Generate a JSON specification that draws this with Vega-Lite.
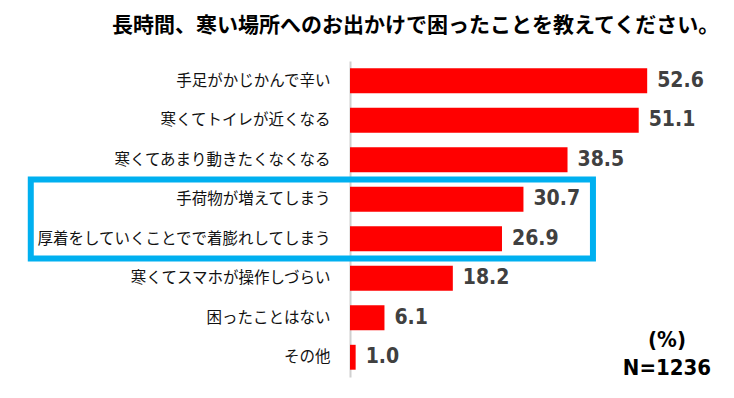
{
  "$schema": "https://vega.github.io/schema/vega-lite/v6.json",
  "width": 339,
  "height": 316,
  "autosize": {"type": "none"},
  "padding": {"left": 350, "top": 61, "right": 45, "bottom": 21},
  "background": "white",
  "config": {"view": {"stroke": null}},
  "title": {
    "text": "長時間、寒い場所へのお出かけで困ったことを教えてください。",
    "font": "Noto Sans CJK JP",
    "fontSize": 21,
    "fontWeight": "bold",
    "color": "#000000",
    "anchor": "start",
    "frame": "group",
    "dx": -238,
    "offset": 25
  },
  "layer": [
    {
      "data": {
        "values": [
          {"label": "手足がかじかんで辛い", "value": 52.6},
          {"label": "寒くてトイレが近くなる", "value": 51.1},
          {"label": "寒くてあまり動きたくなくなる", "value": 38.5},
          {"label": "手荷物が増えてしまう", "value": 30.7},
          {"label": "厚着をしていくことでで着膨れしてしまう", "value": 26.9},
          {"label": "寒くてスマホが操作しづらい", "value": 18.2},
          {"label": "困ったことはない", "value": 6.1},
          {"label": "その他", "value": 1.0}
        ]
      },
      "encoding": {
        "y": {
          "field": "label",
          "type": "nominal",
          "sort": null,
          "scale": {"paddingInner": 0.37, "paddingOuter": 0.185},
          "axis": {
            "title": null,
            "ticks": false,
            "domain": true,
            "domainColor": "#d0d0d0",
            "domainWidth": 2,
            "labelPadding": 20,
            "labelFont": "Noto Sans CJK JP",
            "labelFontSize": 15.5,
            "labelColor": "#111111",
            "labelLimit": 400
          }
        },
        "x": {
          "field": "value",
          "type": "quantitative",
          "scale": {"domain": [0, 60]},
          "axis": null
        }
      },
      "layer": [
        {"mark": {"type": "bar", "color": "#ff0000"}},
        {
          "mark": {
            "type": "text",
            "align": "left",
            "baseline": "middle",
            "dx": 10,
            "font": "DejaVu Sans Condensed, Liberation Sans, sans-serif",
            "fontWeight": "bold",
            "fontSize": 21,
            "color": "#404040"
          },
          "encoding": {"text": {"field": "value", "type": "quantitative", "format": ".1f"}}
        }
      ]
    },
    {
      "layer": [
        {
          "data": {"values": [{"x": -56.5, "x2": 43, "y": 3, "y2": 5}]},
          "mark": {"type": "rect", "filled": false, "stroke": "#00b0f0", "strokeWidth": 6, "clip": false},
          "encoding": {
            "x": {"field": "x", "type": "quantitative", "scale": {"domain": [0, 60]}, "axis": null},
            "x2": {"field": "x2"},
            "y": {"field": "y", "type": "quantitative", "scale": {"domain": [0, 8], "reverse": true, "nice": false, "zero": false}, "axis": null},
            "y2": {"field": "y2"}
          }
        },
        {
          "data": {
            "values": [
              {"t": "(%)", "x": 56.1, "y": 7.06},
              {"t": "N=1236", "x": 56.1, "y": 7.77}
            ]
          },
          "mark": {
            "type": "text",
            "align": "center",
            "baseline": "middle",
            "font": "DejaVu Sans Condensed, Liberation Sans, sans-serif",
            "fontWeight": "bold",
            "fontSize": 22,
            "color": "#000000"
          },
          "encoding": {
            "x": {"field": "x", "type": "quantitative", "scale": {"domain": [0, 60]}, "axis": null},
            "y": {"field": "y", "type": "quantitative", "scale": {"domain": [0, 8], "reverse": true, "nice": false, "zero": false}, "axis": null},
            "text": {"field": "t", "type": "nominal"}
          }
        }
      ]
    }
  ],
  "resolve": {"scale": {"y": "independent"}}
}
